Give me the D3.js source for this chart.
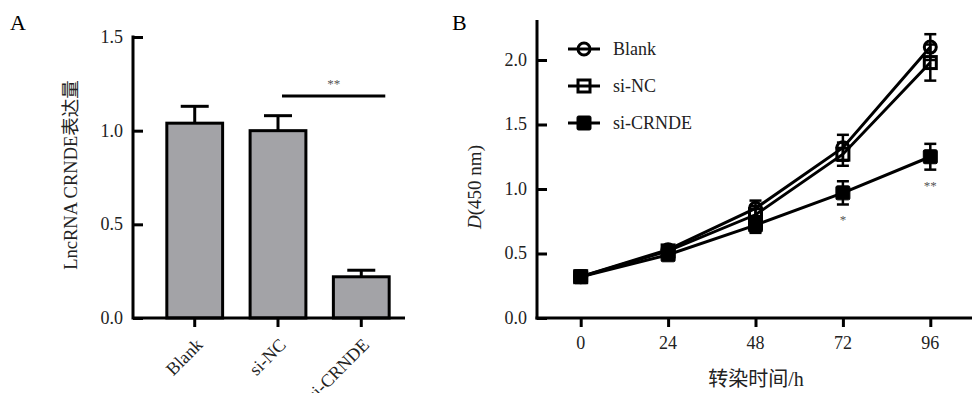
<!DOCTYPE html>
<html>
<head>
<meta charset="utf-8">
<script src="https://cdn.jsdelivr.net/npm/d3@7"></script>
<style>
  body { margin: 0; background: #fff; }
  text { font-family: "Liberation Serif", "Noto Sans CJK SC", serif; }
</style>
</head>
<body>
<script>
// panel A: expression
const groups = ["Blank", "si-NC", "si-CRNDE"]
const expr = [1.04, 1.0, 0.22]
const exprErr = [0.09, 0.08, 0.035]
const exprTicks = [0, 0.5, 1.0, 1.5]

// panel B: growth curves
const hours = [0, 24, 48, 72, 96]
const blank = [0.32, 0.53, 0.85, 1.32, 2.10]
const blankErr = [0.02, 0.03, 0.06, 0.10, 0.10]
const siNC = [0.32, 0.52, 0.80, 1.27, 1.98]
const siNCErr = [0.02, 0.03, 0.07, 0.09, 0.14]
const siCRNDE = [0.32, 0.49, 0.72, 0.97, 1.25]
const siCRNDEErr = [0.02, 0.03, 0.06, 0.09, 0.10]
const odTicks = [0, 0.5, 1.0, 1.5, 2.0]
const stars = [{h: 72, t: "*"}, {h: 96, t: "**"}]

const W = 972, H = 393
const svg = d3.select("body").append("svg")
  .attr("width", W).attr("height", H)

const fs = 18

// ---------- panel A ----------
const gA = svg.append("g")
const yA = d3.scaleLinear().domain([0, 1.5]).range([318, 37])
const xA = d3.scaleBand().domain(groups).range([151, 405])
  .paddingInner(0.33).paddingOuter(0.19)

gA.append("text").attr("x", 10).attr("y", 30)
  .attr("font-size", 22).text("A")

// bars
gA.selectAll("rect.bar")
  .data(groups)
  .join("rect")
    .attr("class", "bar")
    .attr("x", d => xA(d))
    .attr("width", xA.bandwidth())
    .attr("y", (d, i) => yA(expr[i]))
    .attr("height", (d, i) => yA(0) - yA(expr[i]))
    .attr("fill", "#a3a3a7")
    .attr("stroke", "#000")
    .attr("stroke-width", 3)

// error bars (upper only)
const errA = gA.append("g").attr("stroke", "#000").attr("stroke-width", 3)
groups.forEach((g, i) => {
  const cx = xA(g) + xA.bandwidth() / 2
  errA.append("line")
    .attr("x1", cx).attr("x2", cx)
    .attr("y1", yA(expr[i])).attr("y2", yA(expr[i] + exprErr[i]))
  errA.append("line")
    .attr("x1", cx - 14).attr("x2", cx + 14)
    .attr("y1", yA(expr[i] + exprErr[i])).attr("y2", yA(expr[i] + exprErr[i]))
})

// y axis (ticks inward)
gA.append("g")
  .attr("transform", "translate(133,0)")
  .call(d3.axisRight(yA).tickValues(exprTicks).tickSize(10).tickFormat(""))
  .call(g => g.select(".domain").remove())
  .call(g => g.selectAll("line").attr("stroke-width", 3))
gA.append("line").attr("x1", 133).attr("x2", 133)
  .attr("y1", yA(1.5) - 1.5).attr("y2", yA(0) + 1.5)
  .attr("stroke", "#000").attr("stroke-width", 3)
gA.selectAll("text.ytA")
  .data(exprTicks)
  .join("text")
    .attr("class", "ytA")
    .attr("x", 123).attr("y", d => yA(d) + 6)
    .attr("text-anchor", "end")
    .attr("font-size", fs)
    .attr("fill", "#222")
    .text(d3.format(".1f"))

// x axis
gA.append("g")
  .attr("transform", "translate(0,318)")
  .call(d3.axisBottom(xA).tickSize(9).tickFormat(""))
  .call(g => g.select(".domain").remove())
  .call(g => g.selectAll("line").attr("stroke-width", 3))
gA.append("line").attr("x1", 133).attr("x2", 405)
  .attr("y1", 318).attr("y2", 318)
  .attr("stroke", "#000").attr("stroke-width", 3)
gA.selectAll("text.xtA")
  .data(groups)
  .join("text")
    .attr("class", "xtA")
    .attr("text-anchor", "end")
    .attr("font-size", fs)
    .attr("fill", "#222")
    .attr("transform", d => `translate(${xA(d) + xA.bandwidth() / 2 + 9},${346}) rotate(-45)`)
    .text(d => d)

// y label
gA.append("text")
  .attr("transform", "translate(77,175) rotate(-90)")
  .attr("text-anchor", "middle")
  .attr("font-size", 18.5)
  .attr("fill", "#222")
  .text("LncRNA CRNDE表达量")

// significance
const sx1 = xA("si-NC") + xA.bandwidth() / 2 + 4
const sx2 = xA("si-CRNDE") + xA.bandwidth() / 2 + 24
gA.append("line").attr("x1", sx1).attr("x2", sx2)
  .attr("y1", yA(1.185)).attr("y2", yA(1.185))
  .attr("stroke", "#000").attr("stroke-width", 3)
gA.append("text").attr("x", (sx1 + sx2) / 2).attr("y", yA(1.185) - 8)
  .attr("text-anchor", "middle").attr("font-size", 13).attr("fill", "#555")
  .text("**")

// ---------- panel B ----------
const gB = svg.append("g")
const xB = d3.scaleLinear().domain([-12, 108]).range([537, 974])
const yB = d3.scaleLinear().domain([0, 2.31]).range([318, 20])

gB.append("text").attr("x", 452).attr("y", 30)
  .attr("font-size", 22).text("B")

// axes
gB.append("g")
  .attr("transform", "translate(537,0)")
  .call(d3.axisRight(yB).tickValues(odTicks).tickSize(10).tickFormat(""))
  .call(g => g.select(".domain").remove())
  .call(g => g.selectAll("line").attr("stroke-width", 3))
gB.append("line").attr("x1", 537).attr("x2", 537)
  .attr("y1", yB(2.31)).attr("y2", yB(0) + 1.5)
  .attr("stroke", "#000").attr("stroke-width", 3)
gB.selectAll("text.ytB")
  .data(odTicks)
  .join("text")
    .attr("class", "ytB")
    .attr("x", 527).attr("y", d => yB(d) + 6)
    .attr("text-anchor", "end")
    .attr("font-size", fs)
    .attr("fill", "#222")
    .text(d3.format(".1f"))

gB.append("g")
  .attr("transform", "translate(0,318)")
  .call(d3.axisBottom(xB).tickValues(hours).tickSize(9).tickFormat(""))
  .call(g => g.select(".domain").remove())
  .call(g => g.selectAll("line").attr("stroke-width", 3))
gB.append("line").attr("x1", 535.5).attr("x2", 972)
  .attr("y1", 318).attr("y2", 318)
  .attr("stroke", "#000").attr("stroke-width", 3)
gB.selectAll("text.xtB")
  .data(hours)
  .join("text")
    .attr("class", "xtB")
    .attr("x", d => xB(d)).attr("y", 349)
    .attr("text-anchor", "middle")
    .attr("font-size", fs)
    .attr("fill", "#222")
    .text(d => d)

gB.append("text")
  .attr("x", 756).attr("y", 386)
  .attr("text-anchor", "middle")
  .attr("font-size", 20)
  .attr("fill", "#222")
  .text("转染时间/h")

const yl = gB.append("text")
  .attr("transform", "translate(481,187) rotate(-90)")
  .attr("text-anchor", "middle")
  .attr("font-size", 19)
  .attr("fill", "#222")
yl.append("tspan").attr("font-style", "italic").text("D")
yl.append("tspan").text("(450 nm)")

// series
const series = [
  {name: "Blank", vals: blank, err: blankErr, shape: "circle"},
  {name: "si-NC", vals: siNC, err: siNCErr, shape: "square"},
  {name: "si-CRNDE", vals: siCRNDE, err: siCRNDEErr, shape: "filled"}
]

const line = d3.line().x((d, i) => xB(hours[i])).y(d => yB(d))

function marker(g, shape, x, y) {
  if (shape === "circle") {
    g.append("circle").attr("cx", x).attr("cy", y).attr("r", 6)
      .attr("fill", "#fff").attr("stroke", "#000").attr("stroke-width", 3)
  } else if (shape === "square") {
    g.append("rect").attr("x", x - 6).attr("y", y - 6)
      .attr("width", 12).attr("height", 12)
      .attr("fill", "#fff").attr("stroke", "#000").attr("stroke-width", 3)
  } else {
    g.append("rect").attr("x", x - 7).attr("y", y - 7)
      .attr("width", 14).attr("height", 14).attr("rx", 1.5)
      .attr("fill", "#000").attr("stroke", "#000").attr("stroke-width", 1)
  }
}

const gMarks = gB.append("g")
const gLines = gB.append("g")
const gErr = gB.append("g").attr("stroke", "#000").attr("stroke-width", 2.5)

series.forEach(s => {
  s.vals.forEach((v, i) => marker(gMarks, s.shape, xB(hours[i]), yB(v)))
  gLines.append("path")
    .attr("d", line(s.vals))
    .attr("fill", "none")
    .attr("stroke", "#000")
    .attr("stroke-width", 3)
  s.vals.forEach((v, i) => {
    const x = xB(hours[i])
    const y1 = yB(v + s.err[i]), y2 = yB(v - s.err[i])
    gErr.append("line").attr("x1", x).attr("x2", x).attr("y1", y1).attr("y2", y2)
    gErr.append("line").attr("x1", x - 6).attr("x2", x + 6).attr("y1", y1).attr("y2", y1)
    gErr.append("line").attr("x1", x - 6).attr("x2", x + 6).attr("y1", y2).attr("y2", y2)
  })
})

// stars
gB.selectAll("text.star")
  .data(stars)
  .join("text")
    .attr("class", "star")
    .attr("x", d => xB(d.h))
    .attr("y", d => yB(siCRNDE[hours.indexOf(d.h)] - siCRNDEErr[hours.indexOf(d.h)]) + 20)
    .attr("text-anchor", "middle")
    .attr("font-size", 13)
    .attr("fill", "#555")
    .text(d => d.t)

// legend
const leg = gB.append("g")
series.forEach((s, i) => {
  const y = 49 + i * 37
  marker(leg, s.shape, 584, y)
  leg.append("line").attr("x1", 568).attr("x2", 600).attr("y1", y).attr("y2", y)
    .attr("stroke", "#000").attr("stroke-width", 3)
  leg.append("text").attr("x", 613).attr("y", y + 6)
    .attr("font-size", fs).attr("fill", "#222").text(s.name)
})
</script>
</body>
</html>
